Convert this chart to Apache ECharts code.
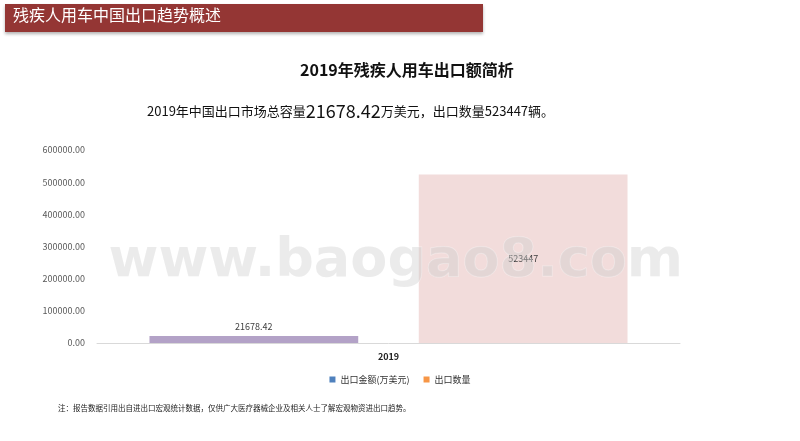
<!DOCTYPE html>
<html><head><meta charset="utf-8">
<script src="https://cdn.jsdelivr.net/npm/echarts@6/dist/echarts.min.js"></script>
<style>html,body{margin:0;padding:0;background:#fff}#c{width:800px;height:441px}</style>
</head><body><div id="c"></div>
<script>
const categories = ['2019'];
const seriesNames = ['出口金额(万美元)', '出口数量'];
const exportValue = [21678.42];
const exportQty = [523447];
const yTicks = { min: 0, max: 600000, interval: 100000 };

const F = '"Noto Sans CJK SC", "Microsoft YaHei", sans-serif';
const chart = echarts.init(document.getElementById('c'));
chart.setOption({
  animation: false,
  graphic: [
    { type: 'rect', shape: { x: 5, y: 4, width: 478, height: 28 }, style: { fill: '#943634', shadowBlur: 3, shadowOffsetY: 2, shadowColor: 'rgba(0,0,0,0.3)' } },
    { type: 'text', left: 13, top: 7, style: { text: '残疾人用车中国出口趋势概述', fill: '#fff', font: '16px ' + F } },
    { type: 'text', left: 300, top: 62, style: { text: '2019年残疾人用车出口额简析', fill: '#111', font: 'bold 16px ' + F } },
    { type: 'text', left: 147, top: 102, style: {
      text: '{a|2019年中国出口市场总容量}{b|21678.42}{a|万美元，出口数量523447辆。}',
      rich: { a: { font: '13px ' + F, fill: '#111' }, b: { font: '18px ' + F, fill: '#111' } } } },
    { type: 'text', left: 58, top: 404, style: { text: '注：报告数据引用出自进出口宏观统计数据，仅供广大医疗器械企业及相关人士了解宏观物资进出口趋势。', fill: '#222', font: '7.5px ' + F } },
    { type: 'text', left: 108, top: 234, z: 100, style: { text: 'www.baogao8.com', fill: 'rgba(205,205,205,0.4)', font: 'bold 54px "DejaVu Sans", sans-serif', stroke: 'rgba(255,255,255,0.4)', lineWidth: 1 } }
  ],
  legend: {
    bottom: 52, left: 'center', itemWidth: 6, itemHeight: 6, itemGap: 14, icon: 'rect',
    textStyle: { fontSize: 9, color: '#333', fontFamily: F },
    data: [
      { name: seriesNames[0], itemStyle: { color: '#4f81bd' } },
      { name: seriesNames[1], itemStyle: { color: '#f79646' } }
    ]
  },
  grid: { left: 97, right: 120, top: 150, bottom: 98 },
  xAxis: {
    type: 'category', data: categories,
    axisLine: { lineStyle: { color: '#d9d9d9' } }, axisTick: { show: false },
    axisLabel: { fontSize: 9, color: '#222', fontWeight: 'bold', margin: 9, fontFamily: F }
  },
  yAxis: {
    type: 'value', min: yTicks.min, max: yTicks.max, interval: yTicks.interval,
    splitLine: { show: false }, axisLine: { show: false }, axisTick: { show: false },
    axisLabel: { fontSize: 9, color: '#595959', margin: 12, fontFamily: F, formatter: v => v.toFixed(2) }
  },
  series: [
    { name: seriesNames[0], type: 'bar', data: exportValue, barGap: '29%', barCategoryGap: '18%',
      itemStyle: { color: '#b3a2c7' },
      label: { show: true, position: 'top', fontSize: 9, color: '#404040', fontFamily: F, formatter: p => p.value.toFixed(2) } },
    { name: seriesNames[1], type: 'bar', data: exportQty,
      itemStyle: { color: '#f2dcdb' },
      label: { show: true, position: 'inside', fontSize: 9, color: '#404040', fontFamily: F } }
  ]
});
</script></body></html>
